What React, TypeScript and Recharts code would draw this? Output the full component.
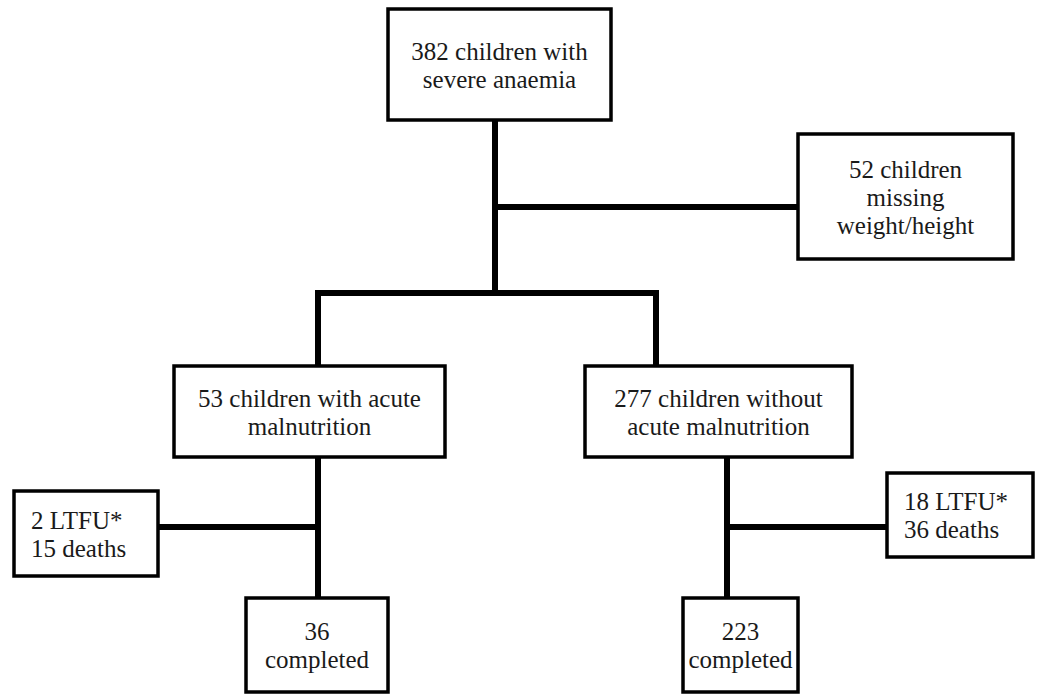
import React from "react";
import {
  ComposedChart,
  XAxis,
  YAxis,
  ReferenceArea,
  ReferenceLine,
  Scatter,
} from "recharts";

// flow counts
const enrolled = 382;
const missingAnthro = 52;
const groupCounts = [53, 277];
const ltfuCounts = [2, 18];
const deathCounts = [15, 36];
const completedCounts = [36, 223];

const nodeText: string[][] = [
  [`${enrolled} children with`, "severe anaemia"],
  [`${missingAnthro} children`, "missing", "weight/height"],
  [`${groupCounts[0]} children with acute`, "malnutrition"],
  [`${groupCounts[1]} children without`, "acute malnutrition"],
  [`${ltfuCounts[0]} LTFU*`, `${deathCounts[0]} deaths`],
  [`${ltfuCounts[1]} LTFU*`, `${deathCounts[1]} deaths`],
  [`${completedCounts[0]}`, "completed"],
  [`${completedCounts[1]}`, "completed"],
];

// layout, in pixel units of the drawing area
const W = 1039;
const H = 694;
const boxes = [
  { x1: 388, x2: 611, y1: 9, y2: 120, align: "middle" },
  { x1: 798, x2: 1013, y1: 134, y2: 259, align: "middle" },
  { x1: 174, x2: 445, y1: 366, y2: 457, align: "middle" },
  { x1: 585, x2: 852, y1: 366, y2: 457, align: "middle" },
  { x1: 14, x2: 158, y1: 491, y2: 576, align: "start" },
  { x1: 887, x2: 1033, y1: 473, y2: 557, align: "start" },
  { x1: 246, x2: 388, y1: 598, y2: 692, align: "middle" },
  { x1: 683, x2: 798, y1: 598, y2: 692, align: "middle" },
];

const connectors = [
  [[495, 120], [495, 296]],
  [[495, 207], [798, 207]],
  [[315, 293], [659, 293]],
  [[318, 290], [318, 366]],
  [[656, 290], [656, 366]],
  [[318, 457], [318, 598]],
  [[158, 527], [321, 527]],
  [[727, 457], [727, 598]],
  [[724, 527], [887, 527]],
];

const FONT = "'Liberation Serif', serif";
const FONT_SIZE = 25;
const LINE_H = 28;

const centers = boxes.map((b) => ({ x: (b.x1 + b.x2) / 2, y: (b.y1 + b.y2) / 2 }));

function BoxLabel(props: any) {
  const { viewBox, lines, align } = props;
  const { x, y, width, height } = viewBox;
  const tx = align === "start" ? x + 17 : x + width / 2;
  const top = y + height / 2 - ((lines.length - 1) * LINE_H) / 2;
  return (
    <text
      x={tx}
      textAnchor={align}
      fontFamily={FONT}
      fontSize={FONT_SIZE}
      fill="#1a1a1a"
      dominantBaseline="central"
    >
      {lines.map((l: string, i: number) => (
        <tspan key={i} x={tx} y={top + i * LINE_H}>
          {l}
        </tspan>
      ))}
    </text>
  );
}

export default function App() {
  return (
    <div style={{ position: "absolute", left: 0, top: 0, background: "#fff" }}>
      <ComposedChart width={W} height={H} margin={{ top: 0, right: 0, bottom: 0, left: 0 }}>
        <XAxis type="number" dataKey="x" domain={[0, W]} hide allowDataOverflow />
        <YAxis type="number" dataKey="y" domain={[0, H]} reversed hide allowDataOverflow />
        {connectors.map((c, i) => (
          <ReferenceLine
            key={"c" + i}
            segment={[
              { x: c[0][0], y: c[0][1] },
              { x: c[1][0], y: c[1][1] },
            ]}
            stroke="#000"
            strokeWidth={6}
            ifOverflow="visible"
          />
        ))}
        {boxes.map((b, i) => (
          <ReferenceArea
            key={"b" + i}
            x1={b.x1}
            x2={b.x2}
            y1={b.y1}
            y2={b.y2}
            fill="#fff"
            fillOpacity={1}
            stroke="#000"
            strokeWidth={3.5}
            ifOverflow="visible"
            label={(p: any) => <BoxLabel {...p} lines={nodeText[i]} align={b.align} />}
          />
        ))}
        <Scatter data={centers} fill="none" isAnimationActive={false} shape={() => <g />} />
      </ComposedChart>
    </div>
  );
}
